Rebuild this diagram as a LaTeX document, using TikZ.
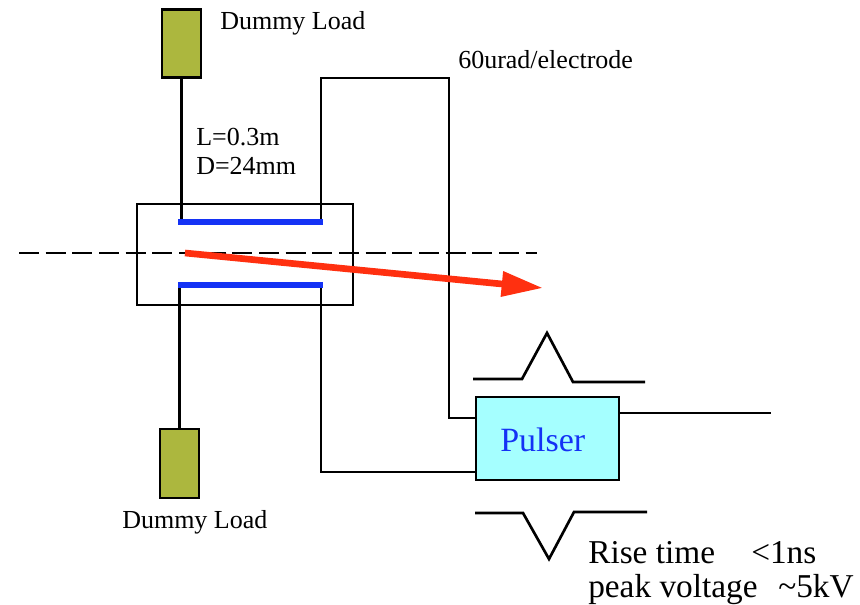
\documentclass[tikz,border=0pt]{standalone}
\usepackage{fontspec}
\setmainfont{Liberation Serif}
\usepackage{tikz}
\usetikzlibrary{arrows.meta,positioning}
\definecolor{loadgreen}{RGB}{172,183,62}
\definecolor{plateblue}{RGB}{20,50,245}
\definecolor{beamred}{RGB}{255,48,16}
\definecolor{pulsercyan}{RGB}{165,255,255}
\tikzset{
  wire/.style={black, line width=2pt},
  plate/.style={plateblue, line width=4pt},
  loadbox/.style={draw=black, line width=2pt, fill=loadgreen, minimum width=29.25pt, minimum height=51pt, inner sep=0pt},
  label/.style={font=\fontsize{19.5}{24}\selectfont, align=left, inner sep=0pt},
  speclabel/.style={font=\fontsize{25}{30}\selectfont, inner sep=0pt}
}
\begin{document}
\begin{tikzpicture}[x=0.75pt, y=-0.75pt]
\useasboundingbox (0,0) rectangle (860,605);
% Chamber and plates
\node[draw=black, line width=2pt, minimum width=162pt, minimum height=75.75pt, inner sep=0pt] (chamber) at (245,254.5) {};
\coordinate (upL) at (178,222);
\coordinate (upR) at (323,222);
\coordinate (loL) at (178,285);
\coordinate (loR) at (323,285);
% Dummy loads
\node[loadbox] (loadtop) at (181.5,43.5) {};
\node[loadbox, minimum height=51.75pt] (loadbot) at (179.5,463.5) {};
\draw[wire] (loadtop.south) -- (loadtop.south |- upL);
\draw[wire] (loadbot.north) -- (loadbot.north |- loL);
% Pulser
\node[draw=black, line width=2pt, fill=pulsercyan, minimum width=107.25pt, minimum height=62.25pt, inner sep=0pt] (pulser) at (547.5,438.5) {};
\node[anchor=west, inner sep=0pt, text=plateblue, font=\fontsize{25.5}{30}\selectfont] (pulsertext) at (500,440) {Pulser};
% Wires to the pulser
\coordinate (topA) at (321,78);
\coordinate (topB) at (449,78);
\coordinate (botA) at (321,472);
\draw[wire] (upR -| topA) -- (topA) -- (topB) -- (topB |- 0,418) -- (pulser.west |- 0,418);
\draw[wire] (loR -| botA) -- (botA) -- (pulser.west |- botA);
\coordinate (outend) at (771,413);
\draw[wire] (pulser.east |- outend) -- (outend);
% Plates on top of the wires
\draw[plate] (upL) -- (upR);
\draw[plate] (loL) -- (loR);
% Beam axis
\coordinate (axisL) at (19,253);
\coordinate (axisR) at (537,253);
\draw[black, line width=2pt, dash pattern=on 15pt off 5pt] (axisL) -- (axisR);
% Deflected beam
\coordinate (beamS) at (185,253);
\coordinate (beamE) at (543,288);
\draw[beamred, line width=5pt, -{Triangle[length=31pt, width=18pt]}] (beamS) -- (beamE);
% Pulse shapes
\coordinate (pa1) at (473,379);
\coordinate (pa2) at (522,379);
\coordinate (pa3) at (547,333);
\coordinate (pa4) at (573,382);
\coordinate (pa5) at (645,382);
\draw[wire] (pa1) -- (pa2) -- (pa3) -- (pa4) -- (pa5);
\coordinate (pb1) at (475,513);
\coordinate (pb2) at (523,513);
\coordinate (pb3) at (549,559);
\coordinate (pb4) at (574,512);
\coordinate (pb5) at (647,512);
\draw[wire] (pb1) -- (pb2) -- (pb3) -- (pb4) -- (pb5);
% Labels
\node[label, anchor=west] (toplabel) at (220,23) {Dummy Load};
\node[label, anchor=west] (botlabel) at (122,522) {Dummy Load};
\node[label, anchor=west] (kicklabel) at (458,60) {60urad/electrode};
\node[label, anchor=base west] (lengthlabel) at (196,146) {L=0.3m};
\node[label, anchor=base west] (gaplabel) at (196,175) {D=24mm};
\node[speclabel, anchor=base west] (riselabel) at (588,563) {Rise time};
\node[speclabel, anchor=base west] (risevalue) at (751,563) {<1ns};
\node[speclabel, anchor=base west] (peaklabel) at (588,597) {peak voltage};
\node[speclabel, anchor=base west] (peakvalue) at (778,597) {\textasciitilde5kV};
\end{tikzpicture}
\end{document}
